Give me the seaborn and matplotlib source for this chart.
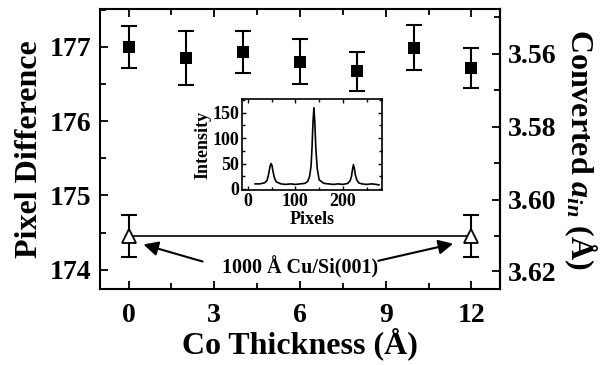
import numpy as np
import matplotlib
matplotlib.use("Agg")
import matplotlib.pyplot as plt
import seaborn as sns
from matplotlib.ticker import MultipleLocator, FixedLocator, FormatStrFormatter

# main data: Co/Cu films
co_thickness = [0, 2, 4, 6, 8, 10, 12]
pixel_diff = [177.00, 176.85, 176.93, 176.80, 176.67, 176.99, 176.71]
pixel_err = [0.28, 0.36, 0.28, 0.30, 0.26, 0.30, 0.27]

# reference film 1000 A Cu/Si(001)
ref_x = [0, 12]
ref_y = [174.45, 174.45]
ref_err = [0.28, 0.28]

# inset profile
inset_px = [15, 25, 35, 40, 43, 45, 47, 49, 51, 53, 56, 60, 70, 80, 90, 100, 110,
            120, 126, 130, 133, 135, 137, 139, 141, 143, 146, 150, 160, 170, 180,
            190, 200, 210, 215, 218, 220, 222, 224, 226, 229, 233, 240, 250, 260,
            270, 276]
inset_int = [10, 10, 12, 16, 25, 35, 45, 50, 46, 35, 22, 14, 10, 9, 10, 9, 10,
             11, 15, 25, 45, 80, 130, 160, 130, 80, 40, 18, 11, 10, 9,
             10, 9, 11, 16, 25, 38, 48, 40, 28, 18, 12, 10, 9, 10,
             9, 8]

right_ticks = [3.56, 3.58, 3.60, 3.62]
K = 629.8  # a_in = K / pixel

sns.set_style("ticks")
plt.rcParams['font.family'] = ['Liberation Serif', 'DejaVu Serif']
plt.rcParams['font.weight'] = 'bold'
plt.rcParams['axes.labelweight'] = 'bold'
plt.rcParams['mathtext.fontset'] = 'custom'
plt.rcParams['mathtext.it'] = 'Liberation Serif:bold:italic'
plt.rcParams['mathtext.rm'] = 'Liberation Serif:bold'
for key in ['text.color', 'axes.labelcolor', 'xtick.color', 'ytick.color', 'axes.edgecolor']:
    plt.rcParams[key] = 'black'

fig = plt.figure(figsize=(6.07, 3.65), dpi=100)
ax = fig.add_axes([100/607, 76/365, 400/607, 280/365])

ax.errorbar(co_thickness, pixel_diff, yerr=pixel_err, fmt='none', ecolor='k',
            elinewidth=1.5, capsize=5.5, capthick=1.5, zorder=2)
sns.scatterplot(x=co_thickness, y=pixel_diff, marker='s', s=85, color='k',
                edgecolor='k', linewidth=0, ax=ax, zorder=3)

ax.errorbar(ref_x, ref_y, yerr=ref_err, fmt='none', ecolor='k',
            elinewidth=1.5, capsize=5.5, capthick=1.5, zorder=2)
sns.lineplot(x=ref_x, y=ref_y, color='k', lw=1.2, marker='^', markersize=10,
             markerfacecolor='white', markeredgecolor='k', markeredgewidth=1.3,
             ax=ax, zorder=3)

ax.text(6, 174.03, "1000 Å Cu/Si(001)", ha='center', va='center',
        fontsize=14.5, fontweight='bold')
arrow = dict(arrowstyle='-|>', color='k', lw=1.5, mutation_scale=22,
             shrinkA=0, shrinkB=0)
ax.annotate("", xy=(0.52, 174.34), xytext=(2.59, 174.11), arrowprops=arrow)
ax.annotate("", xy=(11.36, 174.35), xytext=(8.74, 174.12), arrowprops=arrow)

ax.set_xlim(-1, 13)
ax.set_ylim(173.74, 177.51)
ax.xaxis.set_major_locator(MultipleLocator(3))
ax.xaxis.set_minor_locator(MultipleLocator(1.5))
ax.yaxis.set_major_locator(MultipleLocator(1))
ax.yaxis.set_minor_locator(MultipleLocator(0.5))
ax.tick_params(which='both', direction='in', top=True, right=False, width=1.3,
               labelsize=20, pad=6)
ax.tick_params(axis='x', pad=10)
ax.tick_params(which='major', length=6)
ax.tick_params(which='minor', length=4)
for sp in ax.spines.values():
    sp.set_linewidth(1.5)
ax.set_xlabel("Co Thickness (Å)", fontsize=23, fontweight='bold', labelpad=0)
ax.set_ylabel("Pixel Difference", fontsize=23, fontweight='bold', labelpad=4)

sec = ax.secondary_yaxis('right', functions=(lambda p: K / p, lambda a: K / a))
sec.yaxis.set_major_locator(FixedLocator(right_ticks))
sec.yaxis.set_minor_locator(FixedLocator([3.55, 3.57, 3.59, 3.61]))
sec.tick_params(which='both', direction='in', width=1.3, labelsize=20, pad=6)
sec.tick_params(which='major', length=6)
sec.tick_params(which='minor', length=4)
sec.yaxis.set_major_formatter(FormatStrFormatter('%.2f'))
sec.spines['right'].set_linewidth(1.5)
sec.set_ylabel(r"Converted $a_{in}$ (Å)", fontsize=23, fontweight='bold',
               rotation=270, labelpad=30)

# inset
ins = fig.add_axes([242/607, 175/365, 140/607, 91/365])
sns.lineplot(x=inset_px, y=inset_int, color='k', lw=1.2, ax=ins)
ins.set_xlim(-12, 282)
ins.set_ylim(-2, 177)
ins.xaxis.set_major_locator(MultipleLocator(100))
ins.xaxis.set_minor_locator(MultipleLocator(50))
ins.yaxis.set_major_locator(MultipleLocator(50))
ins.yaxis.set_minor_locator(MultipleLocator(25))
ins.tick_params(which='both', direction='in', top=True, right=True, width=1,
                labelsize=13, pad=2)
ins.tick_params(which='major', length=3)
ins.tick_params(which='minor', length=2)
for sp in ins.spines.values():
    sp.set_linewidth(1.2)
ins.set_xlabel("Pixels", fontsize=13, fontweight='bold', labelpad=1)
ins.set_ylabel("Intensity", fontsize=13, fontweight='bold', labelpad=1)

fig.savefig("out.png", dpi=100)
